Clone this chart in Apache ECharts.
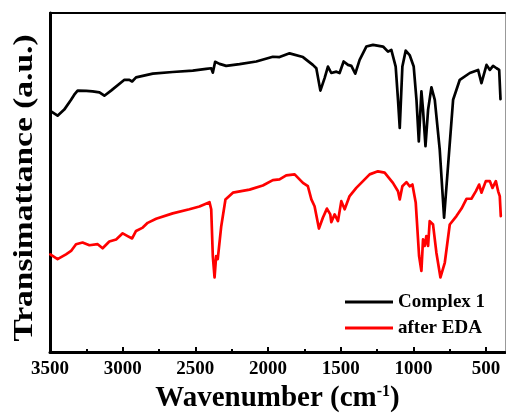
<!DOCTYPE html>
<html>
<head>
<meta charset="utf-8">
<script src="https://cdn.jsdelivr.net/npm/echarts@6/dist/echarts.min.js"></script>
<style>
  html, body { margin: 0; padding: 0; background: #fff; }
  #chart { width: 506px; height: 414px; }
</style>
</head>
<body>
<div id="chart"></div>
<script>
// FT-IR spectra: wavenumber (cm^-1) against transmittance (arbitrary units)
const complexWn = [3493, 3448, 3402, 3355, 3333, 3310, 3298, 3250, 3207, 3160, 3126, 3080, 2988, 2954, 2935, 2908, 2793, 2656, 2518, 2426, 2391, 2380, 2364, 2334, 2288, 2196, 2081, 1967, 1921, 1852, 1760, 1692, 1668, 1640, 1611, 1588, 1565, 1530, 1508, 1480, 1450, 1427, 1400, 1370, 1324, 1278, 1209, 1175, 1152, 1122, 1106, 1094, 1076, 1053, 1026, 998, 979, 963, 945, 934, 917, 899, 876, 853, 819, 789, 762, 727, 681, 612, 555, 532, 497, 474, 452, 428, 410, 401];
const complexT = [71.0, 69.7, 71.5, 74.4, 75.9, 77.1, 77.4, 77.0, 76.9, 76.6, 75.6, 77.1, 80.3, 80.3, 79.8, 81.0, 82.1, 82.6, 83.0, 83.5, 83.7, 82.4, 85.6, 85.0, 84.4, 84.9, 85.7, 87.1, 87.0, 88.1, 87.0, 84.7, 83.7, 77.1, 80.8, 84.2, 82.3, 82.7, 82.3, 85.7, 84.7, 84.4, 82.1, 86.2, 90.1, 90.6, 90.1, 88.6, 89.1, 84.2, 74.4, 66.1, 84.2, 88.9, 87.6, 84.2, 74.4, 62.1, 76.9, 71.5, 60.7, 71.5, 78.1, 74.4, 59.7, 39.6, 54.8, 74.4, 80.3, 82.3, 83.2, 79.3, 84.7, 83.2, 84.4, 83.7, 83.2, 74.6];

const edaWn = [3498, 3448, 3390, 3355, 3321, 3276, 3229, 3172, 3138, 3092, 3045, 3000, 2966, 2935, 2908, 2862, 2828, 2770, 2656, 2541, 2472, 2403, 2391, 2380, 2368, 2357, 2346, 2322, 2293, 2242, 2127, 2036, 1967, 1921, 1875, 1817, 1760, 1726, 1702, 1680, 1650, 1623, 1595, 1572, 1565, 1542, 1519, 1496, 1473, 1439, 1393, 1347, 1301, 1244, 1198, 1141, 1106, 1094, 1076, 1048, 1026, 1007, 984, 961, 945, 934, 922, 911, 899, 888, 865, 842, 814, 784, 750, 704, 669, 635, 601, 571, 548, 532, 502, 474, 456, 433, 417, 406, 399];
const edaT = [28.8, 27.4, 28.8, 29.8, 31.8, 32.3, 31.5, 31.8, 30.6, 32.6, 33.2, 35.0, 34.2, 33.5, 35.7, 36.7, 38.1, 39.3, 40.9, 42.1, 42.9, 44.2, 42.1, 28.3, 22.0, 28.3, 27.4, 37.1, 45.0, 47.0, 47.9, 49.1, 50.7, 50.9, 52.1, 52.4, 49.9, 48.9, 45.0, 43.0, 36.4, 39.6, 42.3, 40.6, 38.3, 40.6, 38.6, 44.5, 42.1, 46.0, 48.4, 50.4, 52.4, 53.3, 52.9, 49.9, 47.4, 45.0, 48.9, 50.1, 48.9, 49.4, 44.0, 28.3, 23.9, 33.2, 31.3, 34.2, 31.3, 38.6, 37.6, 29.3, 22.0, 26.4, 37.6, 40.1, 42.3, 45.2, 45.2, 47.4, 49.4, 47.0, 50.4, 50.4, 48.4, 50.4, 47.4, 46.0, 40.1];

const seriesNames = ['Complex 1', 'after EDA'];
const majorTicks = [3500, 3000, 2500, 2000, 1500, 1000, 500];
const minorTicks = [3250, 2750, 2250, 1750, 1250, 750];
const xMin = 370, xMax = 3500;

const serif = '"Liberation Serif", "Times New Roman", serif';

function pairs(xs, ys) {
  return xs.map((x, i) => [x, ys[i]]);
}

const chart = echarts.init(document.getElementById('chart'), null, { renderer: 'canvas' });

const baseX = { type: 'value', min: xMin, max: xMax, inverse: true, splitLine: { show: false } };

chart.setOption({
  animation: false,
  backgroundColor: '#fff',
  // plot rectangle is fixed; labels and names are placed around it explicitly
  grid: { left: 50, right: 1, top: 13, bottom: 62, containLabel: false, outerBoundsMode: 'none' },
  legend: {
    orient: 'vertical',
    left: 345,
    top: 292,
    padding: 0,
    icon: 'rect',
    itemWidth: 48,
    itemHeight: 3,
    itemGap: 6,
    data: seriesNames,
    textStyle: { fontFamily: serif, fontWeight: 'bold', fontSize: 19, lineHeight: 20, color: '#000' }
  },
  xAxis: [
    Object.assign({}, baseX, {
      position: 'bottom',
      name: 'Wavenumber (cm{sup|-1})',
      nameLocation: 'middle',
      nameGap: 27,
      nameTextStyle: {
        fontFamily: serif, fontWeight: 'bold', fontSize: 29, lineHeight: 30, color: '#000',
        rich: { sup: { fontFamily: serif, fontWeight: 'bold', fontSize: 16, lineHeight: 16, verticalAlign: 'top', color: '#000' } }
      },
      axisLine: { onZero: false, lineStyle: { color: '#000', width: 3 } },
      axisTick: { inside: true, length: 5, customValues: majorTicks, lineStyle: { color: '#000', width: 2 } },
      axisLabel: {
        customValues: majorTicks, margin: 8, color: '#000',
        fontFamily: serif, fontWeight: 'bold', fontSize: 19,
        formatter: (v) => String(v)
      }
    }),
    Object.assign({}, baseX, {
      position: 'bottom',
      axisLine: { show: false, onZero: false },
      axisTick: { inside: true, length: 3, customValues: minorTicks, lineStyle: { color: '#000', width: 2 } },
      axisLabel: { show: false }
    }),
    Object.assign({}, baseX, {
      position: 'top',
      axisLine: { onZero: false, lineStyle: { color: '#000', width: 2 } },
      axisTick: { show: false },
      axisLabel: { show: false }
    })
  ],
  yAxis: [
    {
      type: 'value', min: 0, max: 100, position: 'left',
      axisLine: { show: true, onZero: false, lineStyle: { color: '#000', width: 3 } },
      axisTick: { show: false }, axisLabel: { show: false }, splitLine: { show: false }
    },
    {
      type: 'value', min: 0, max: 100, position: 'right',
      axisLine: { show: true, onZero: false, lineStyle: { color: '#999', width: 1 } },
      axisTick: { show: false }, axisLabel: { show: false }, splitLine: { show: false }
    }
  ],
  graphic: [
    {
      type: 'text',
      x: 25, y: 188,
      rotation: Math.PI / 2,
      scaleX: 1.24,
      style: {
        text: 'Transimattance (a.u.)',
        font: 'bold 27px ' + serif,
        fill: '#000',
        textAlign: 'center',
        textVerticalAlign: 'middle'
      }
    }
  ],
  series: [
    {
      name: seriesNames[0], type: 'line', xAxisIndex: 0, yAxisIndex: 0,
      data: pairs(complexWn, complexT),
      showSymbol: false, symbol: 'none',
      lineStyle: { color: '#000', width: 2.7, join: 'round', cap: 'round' }, itemStyle: { color: '#000' }
    },
    {
      name: seriesNames[1], type: 'line', xAxisIndex: 0, yAxisIndex: 0,
      data: pairs(edaWn, edaT),
      showSymbol: false, symbol: 'none',
      lineStyle: { color: '#ff0000', width: 2.7, join: 'round', cap: 'round' }, itemStyle: { color: '#ff0000' }
    }
  ]
});
</script>
</body>
</html>
